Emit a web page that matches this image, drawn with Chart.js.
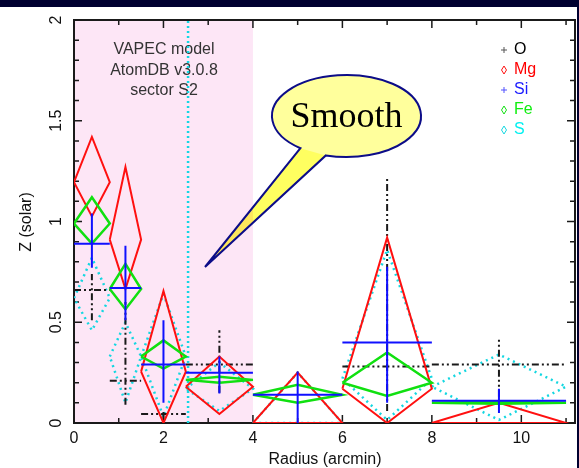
<!DOCTYPE html>
<html>
<head>
<meta charset="utf-8">
<script src="https://cdn.jsdelivr.net/npm/chart.js@4"></script>
<style>
  html, body { margin: 0; padding: 0; background: #fff; }
  canvas { display: block; }
</style>
</head>
<body>
<canvas id="zplot" width="579" height="468"></canvas>
<script>
// radial bins (arcmin)
const binLo  = [0, 0.8, 1.5, 2.5, 4, 6, 8];
const binHi  = [0.8, 1.5, 2.5, 4, 6, 8, 11];
const binMid = [0.4, 1.15, 2, 3.25, 5, 7, 9.5];

// abundances (solar) with lower / upper bounds
const oVal  = [0.66, 0.21, 0.045, 0.29, 0, 0.28, 0.29];
const oLo   = [0.51, 0.09, 0.02, 0.15, 0, 0.06, 0.13];
const oHi   = [0.74, 0.60, 0.07, 0.46, 0, 1.22, 0.42];

const mgVal = [1.195, 0.91, 0.255, 0.18, 0, 0.17, 0];
const mgLo  = [1.025, 0.665, 0, 0.045, 0, 0, 0];
const mgHi  = [1.42, 1.27, 0.655, 0.33, 0.25, 0.92, 0.10];

const siVal = [0.89, 0.67, 0.29, 0.25, 0.14, 0.40, 0.11];
const siLo  = [0.77, 0.51, 0.10, 0.147, 0, 0.10, 0.05];
const siHi  = [1.04, 0.88, 0.51, 0.33, 0.255, 0.775, 0.17];

const feVal = [0.99, 0.665, 0.33, 0.214, 0.14, 0.20, 0.10];
const feLo  = [0.89, 0.565, 0.27, 0.20, 0.10, 0.134, 0.095];
const feHi  = [1.12, 0.79, 0.41, 0.23, 0.19, 0.35, 0.105];

const sVal  = [0.62, 0.33, 0.33, 0.17, 0, 0.22, 0.18];
const sLo   = [0.46, 0.10, 0.03, 0.06, 0, 0.015, 0.015];
const sHi   = [0.82, 0.50, 0.64, 0.30, 0.25, 0.86, 0.34];

const shadeRange = [0, 4];
const cutRadius = 2.55;

const xTickLabels = ['0', '2', '4', '6', '8', '10'];
const xTickValues = [0, 2, 4, 6, 8, 10];
const yTickLabels = ['0', '0.5', '1', '1.5', '2'];
const yTickValues = [0, 0.5, 1, 1.5, 2];

const legendNames = ['O', 'Mg', 'Si', 'Fe', 'S'];
const noteLines = ['VAPEC model', 'AtomDB v3.0.8', 'sector S2'];

const RED = '#ff1010', BLUE = '#1010ff', GREEN = '#10e010', CYAN = 'rgb(20,215,225)', BLACK = '#1a1a1a';

function diamond(i, v, lo, hi) {
  return [
    { x: binLo[i], y: v[i] },
    { x: binMid[i], y: hi[i] },
    { x: binHi[i], y: v[i] },
    { x: binMid[i], y: lo[i] },
    { x: binLo[i], y: v[i] }
  ];
}

function cross(i, v, lo, hi) {
  return [
    { x: binLo[i], y: v[i] },
    { x: binHi[i], y: v[i] },
    { x: binMid[i], y: null },
    { x: binMid[i], y: lo[i] },
    { x: binMid[i], y: hi[i] }
  ];
}

function series(shape, v, lo, hi, color, width, dash) {
  return binMid.map((_, i) => ({
    data: shape(i, v, lo, hi),
    borderColor: color,
    borderWidth: width,
    borderDash: dash,
    showLine: true,
    pointRadius: 0,
    fill: false,
    spanGaps: false
  }));
}

const datasets = [].concat(
  series(cross, siVal, siLo, siHi, BLUE, 2, []),
  series(diamond, feVal, feLo, feHi, GREEN, 2.5, []),
  series(diamond, mgVal, mgLo, mgHi, RED, 2, []),
  series(cross, oVal, oLo, oHi, BLACK, 2, [7, 3, 2, 3, 2, 3]),
  series(diamond, sVal, sLo, sHi, CYAN, 2.5, [2, 4]),
  [{
    data: [{ x: cutRadius, y: 0 }, { x: cutRadius, y: 2 }],
    borderColor: CYAN, borderWidth: 2.5, borderDash: [2, 3],
    showLine: true, pointRadius: 0, fill: false
  }]
);

const decor = {
  id: 'decor',
  beforeDatasetsDraw(chart) {
    const ctx = chart.ctx, ca = chart.chartArea;
    const x = chart.scales.x, y = chart.scales.y;
    ctx.save();
    // shaded inner region
    ctx.fillStyle = 'rgb(253,230,246)';
    const x0 = x.getPixelForValue(shadeRange[0]), x1 = x.getPixelForValue(shadeRange[1]);
    ctx.fillRect(x0, ca.top, x1 - x0, ca.bottom - ca.top);

    // frame
    ctx.strokeStyle = BLACK;
    ctx.lineWidth = 2;
    ctx.strokeRect(ca.left, ca.top, ca.right - ca.left, ca.bottom - ca.top);

    // inward ticks
    ctx.lineWidth = 1.5;
    ctx.beginPath();
    for (let v = 0; v <= 11; v++) {
      const px = x.getPixelForValue(v);
      const len = v % 2 === 0 ? 8 : 5;
      ctx.moveTo(px, ca.bottom); ctx.lineTo(px, ca.bottom - len);
      ctx.moveTo(px, ca.top); ctx.lineTo(px, ca.top + len);
    }
    for (let k = 0; k <= 20; k++) {
      const py = y.getPixelForValue(k / 10);
      const len = k % 5 === 0 ? 8 : 5;
      ctx.moveTo(ca.left, py); ctx.lineTo(ca.left + len, py);
      ctx.moveTo(ca.right, py); ctx.lineTo(ca.right - len, py);
    }
    ctx.stroke();

    // tick labels
    ctx.fillStyle = '#111';
    ctx.font = '16px "Liberation Sans", Arial, sans-serif';
    ctx.textAlign = 'center';
    ctx.textBaseline = 'middle';
    xTickValues.forEach((v, i) => {
      ctx.fillText(xTickLabels[i], x.getPixelForValue(v), 439);
    });
    yTickValues.forEach((v, i) => {
      ctx.save();
      ctx.translate(57, y.getPixelForValue(v));
      ctx.rotate(-Math.PI / 2);
      ctx.fillText(yTickLabels[i], 0, 0);
      ctx.restore();
    });

    // axis titles
    ctx.fillText('Radius (arcmin)', 325, 460);
    ctx.save();
    ctx.translate(27, 222);
    ctx.rotate(-Math.PI / 2);
    ctx.fillText('Z (solar)', 0, 0);
    ctx.restore();

    // model note
    ctx.fillStyle = '#333';
    noteLines.forEach((t, i) => ctx.fillText(t, 164, 50 + i * 20.5));
    ctx.restore();
  },
  afterDatasetsDraw(chart) {
    const ctx = chart.ctx;
    ctx.save();
    // speech bubble
    const cx = 346.5, cy = 116, rx = 74.5, ry = 41;
    const tA = 128.2 * Math.PI / 180, tB = 106.1 * Math.PI / 180;
    const ax = cx + rx * Math.cos(tA), ay = cy + ry * Math.sin(tA);
    const bx = cx + rx * Math.cos(tB), by = cy + ry * Math.sin(tB);
    const tipX = 205, tipY = 267;
    ctx.beginPath();
    ctx.ellipse(cx, cy, rx, ry, 0, tA, tB + 2 * Math.PI);
    ctx.lineTo(tipX, tipY);
    ctx.closePath();
    ctx.globalCompositeOperation = 'multiply';
    ctx.fillStyle = '#ffff9c';
    ctx.fill();
    ctx.beginPath();
    ctx.moveTo(ax, ay); ctx.lineTo(bx, by); ctx.lineTo(tipX, tipY); ctx.closePath();
    ctx.fill();
    ctx.globalCompositeOperation = 'source-over';
    ctx.beginPath();
    ctx.ellipse(cx, cy, rx, ry, 0, tA, tB + 2 * Math.PI);
    ctx.lineTo(tipX, tipY);
    ctx.closePath();
    ctx.strokeStyle = '#0c0c88';
    ctx.lineWidth = 2;
    ctx.lineJoin = 'miter';
    ctx.stroke();
    ctx.fillStyle = '#000';
    ctx.font = '36px "Liberation Serif", "Times New Roman", serif';
    ctx.textAlign = 'center';
    ctx.textBaseline = 'middle';
    ctx.fillText('Smooth', cx, cy + 2);

    // legend
    const symColors = ['#555', RED, '#5050ff', GREEN, CYAN];
    const txtColors = ['#000', '#ff0000', '#1a1aff', '#10ee10', '#00f0f0'];
    ctx.font = '16px "Liberation Sans", Arial, sans-serif';
    ctx.textAlign = 'left';
    legendNames.forEach((name, i) => {
      const ly = 50 + i * 20;
      ctx.strokeStyle = symColors[i];
      ctx.lineWidth = 1;
      ctx.beginPath();
      if (name === 'O' || name === 'Si') {
        ctx.moveTo(501, ly); ctx.lineTo(507, ly);
        ctx.moveTo(504, ly - 3); ctx.lineTo(504, ly + 3);
      } else {
        ctx.moveTo(504, ly - 4); ctx.lineTo(506.5, ly);
        ctx.lineTo(504, ly + 4); ctx.lineTo(501.5, ly); ctx.closePath();
      }
      ctx.stroke();
      ctx.fillStyle = txtColors[i];
      ctx.fillText(name, 514, ly);
    });
    ctx.restore();
  },
  afterDraw(chart) {
    const ctx = chart.ctx;
    ctx.save();
    ctx.fillStyle = '#000030';
    ctx.fillRect(0, 0, 579, 7);
    ctx.fillRect(577, 0, 2, 468);
    ctx.restore();
  }
};

new Chart(document.getElementById('zplot'), {
  type: 'scatter',
  data: { datasets: datasets },
  options: {
    responsive: false,
    animation: false,
    devicePixelRatio: 1,
    layout: { padding: { left: 74, right: 4, top: 20, bottom: 45 } },
    plugins: { legend: { display: false }, tooltip: { enabled: false } },
    scales: {
      x: { type: 'linear', min: 0, max: 11.2, display: false },
      y: { type: 'linear', min: 0, max: 2, display: false }
    }
  },
  plugins: [decor]
});
</script>
</body>
</html>
